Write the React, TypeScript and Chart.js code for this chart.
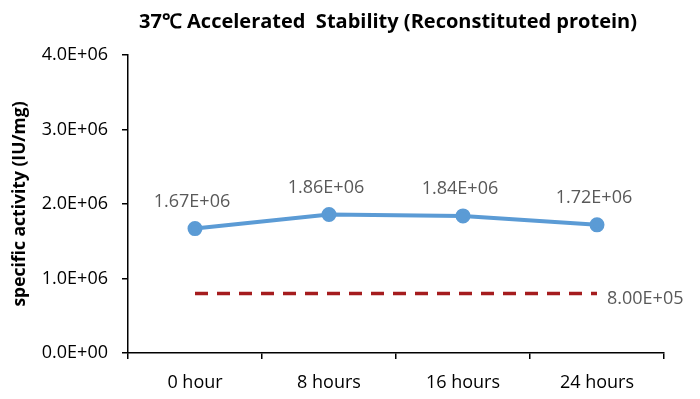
import React, { useEffect, useRef } from "react";
import { Chart, registerables } from "chart.js";

Chart.register(...registerables);

const categories = ["0 hour", "8 hours", "16 hours", "24 hours"];
const activity = [1.67e6, 1.86e6, 1.84e6, 1.72e6];
const threshold = [8.0e5, 8.0e5, 8.0e5, 8.0e5];
const yTicks = [0, 1e6, 2e6, 3e6, 4e6];
const titleText = "37\u2103 Accelerated  Stability (Reconstituted protein)";
const yTitle = "specific activity (IU/mg)";

const FONT = "'Open Sans', sans-serif";

function sci(v: number, d: number): string {
  const s = v.toExponential(d);
  const [m, e] = s.split("e");
  const sign = e[0] === "-" ? "-" : "+";
  const num = Math.abs(parseInt(e, 10));
  return m + "E" + sign + (num < 10 ? "0" + num : String(num));
}

const labelPlugin = {
  id: "customLabels",
  afterDatasetsDraw(chart: any) {
    const ctx = chart.ctx;
    ctx.save();
    // title
    ctx.font = `bold 20px ${FONT}`;
    ctx.fillStyle = "#000";
    ctx.textAlign = "center";
    ctx.textBaseline = "middle";
    ctx.fillText(titleText, 388, 22);
    // data labels for activity series
    ctx.font = `18px ${FONT}`;
    ctx.fillStyle = "#595959";
    const meta0 = chart.getDatasetMeta(0);
    meta0.data.forEach((pt: any, i: number) => {
      ctx.textAlign = "center";
      ctx.textBaseline = "middle";
      ctx.fillText(sci(activity[i], 2), pt.x - 3, pt.y - 27);
    });
    // threshold label at right end
    const meta1 = chart.getDatasetMeta(1);
    const last = meta1.data[meta1.data.length - 1];
    ctx.textAlign = "left";
    ctx.textBaseline = "middle";
    ctx.fillText(sci(threshold[threshold.length - 1], 2), last.x + 10, last.y + 5);
    ctx.restore();
  },
};

export default function App() {
  const ref = useRef<HTMLCanvasElement | null>(null);
  useEffect(() => {
    if (!ref.current) return;
    const chart = new Chart(ref.current, {
      type: "line",
      data: {
        labels: categories,
        datasets: [
          {
            data: activity,
            borderColor: "#5B9BD5",
            backgroundColor: "#5B9BD5",
            borderWidth: 4,
            pointRadius: 5.5,
            pointHoverRadius: 5.5,
            pointBackgroundColor: "#5B9BD5",
            pointBorderColor: "#5B9BD5",
            tension: 0,
          },
          {
            data: threshold,
            borderColor: "#A51C1E",
            borderWidth: 3.5,
            borderDash: [13, 9],
            pointRadius: 0,
            fill: false,
          },
        ],
      },
      options: {
        animation: false,
        responsive: true,
        maintainAspectRatio: false,
        layout: { padding: { left: 6, top: 55, right: 36, bottom: 0 } },
        plugins: {
          legend: { display: false },
          tooltip: { enabled: false },
          title: { display: false },
        },
        scales: {
          x: {
            offset: true,
            grid: {
              offset: true,
              drawOnChartArea: false,
              drawTicks: true,
              tickLength: 6,
              color: "#000",
              lineWidth: 1.5,
            },
            border: { display: true, color: "#000", width: 1.5 },
            ticks: {
              color: "#000",
              font: { family: FONT, size: 18 },
              padding: 13,
            },
            afterFit(scale: any) {
              scale.height = 46;
            },
          },
          y: {
            min: 0,
            max: 4e6,
            afterBuildTicks(scale: any) {
              scale.ticks = yTicks.map((v) => ({ value: v }));
            },
            grid: {
              drawOnChartArea: false,
              drawTicks: true,
              tickLength: 6,
              color: "#000",
              lineWidth: 1.5,
            },
            border: { display: true, color: "#000", width: 1.5 },
            ticks: {
              color: "#000",
              font: { family: FONT, size: 18 },
              padding: 14,
              callback: (v: any) => sci(Number(v), 1),
            },
            title: {
              display: true,
              text: yTitle,
              color: "#000",
              font: { family: FONT, size: 17.5, weight: "bold" },
              padding: { top: 4, bottom: 2 },
            },
            afterFit(scale: any) {
              scale.width = 122;
            },
          },
        },
      },
      plugins: [labelPlugin],
    });
    return () => chart.destroy();
  }, []);
  return (
    <div style={{ position: "fixed", left: 0, top: 0, width: 700, height: 399, background: "#fff" }}>
      <canvas ref={ref} />
    </div>
  );
}
